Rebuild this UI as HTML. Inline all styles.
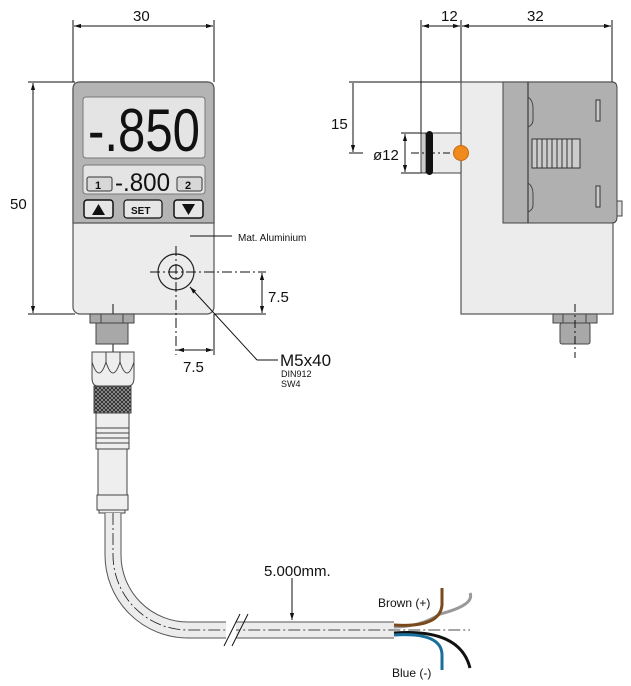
<!DOCTYPE html>
<html><head><meta charset="utf-8"><style>
html,body{margin:0;padding:0;background:#fff}
svg{display:block}
text{font-family:"Liberation Sans",sans-serif;fill:#111}
</style></head><body>
<svg width="631" height="686" viewBox="0 0 631 686" xmlns="http://www.w3.org/2000/svg">
<defs>
<marker id="a" viewBox="0 0 10 10" refX="10" refY="5" markerWidth="7" markerHeight="7" orient="auto-start-reverse"><path d="M0,2 L10,5 L0,8z" fill="#111"/></marker>
<pattern id="kn" width="4" height="4" patternUnits="userSpaceOnUse"><rect width="4" height="4" fill="#999"/><path d="M0,0 L4,4 M4,0 L0,4" stroke="#222" stroke-width="0.8"/></pattern>
</defs>
<g stroke="#111" stroke-width="1" fill="none">
<line x1="73" y1="20" x2="73" y2="82"/><line x1="214" y1="20" x2="214" y2="82"/>
<line x1="74" y1="26" x2="213" y2="26" marker-start="url(#a)" marker-end="url(#a)"/>
<line x1="28" y1="82" x2="75" y2="82"/><line x1="28" y1="314" x2="75" y2="314"/>
<line x1="33" y1="83" x2="33" y2="313" marker-start="url(#a)" marker-end="url(#a)"/>
</g>
<text x="133" y="21" font-size="15">30</text>
<text x="10" y="209" font-size="15">50</text>
<rect x="73" y="82" width="141" height="232" rx="7" fill="#ececec" stroke="#555" stroke-width="1.2"/>
<path d="M73,223 V89 Q73,82 80,82 H207 Q214,82 214,89 V223 Z" fill="#b4b4b4" stroke="#555" stroke-width="1.2"/>
<rect x="83" y="97" width="122" height="61" rx="3" fill="#e4e4e4" stroke="#777"/>
<text x="88" y="151" font-size="60" textLength="112" lengthAdjust="spacingAndGlyphs" fill="#111">-.850</text>
<rect x="83" y="165" width="122" height="29" rx="3" fill="#e4e4e4" stroke="#777"/>
<rect x="87" y="177" width="25" height="14" rx="2" fill="#d8d8d8" stroke="#333"/>
<text x="95" y="189" font-size="11" font-weight="bold">1</text>
<rect x="177" y="177" width="25" height="14" rx="2" fill="#d8d8d8" stroke="#333"/>
<text x="185" y="189" font-size="11" font-weight="bold">2</text>
<text x="115" y="191" font-size="25" textLength="55" lengthAdjust="spacingAndGlyphs">-.800</text>
<rect x="84" y="200" width="29" height="18" rx="3" fill="#e6e6e6" stroke="#111" stroke-width="1.5"/>
<path d="M92,215 L98.5,204 L105,215z" fill="#111"/>
<rect x="124" y="200" width="38" height="18" rx="3" fill="#e6e6e6" stroke="#111" stroke-width="1.2"/>
<text x="131" y="214" font-size="10" font-weight="bold">SET</text>
<rect x="174" y="200" width="29" height="18" rx="3" fill="#e6e6e6" stroke="#111" stroke-width="1.5"/>
<path d="M182,204 L195,204 L188.5,215z" fill="#111"/>
<circle cx="176" cy="272" r="18" fill="none" stroke="#222" stroke-width="1.2"/>
<circle cx="176" cy="272" r="7" fill="none" stroke="#222" stroke-width="1.2"/>
<g stroke="#111" stroke-width="1" fill="none">
<line x1="150" y1="272" x2="266" y2="272" stroke-dasharray="10,3,2,3"/>
<line x1="176" y1="246" x2="176" y2="355" stroke-dasharray="10,3,2,3"/>
<line x1="214" y1="314" x2="266" y2="314"/>
<line x1="214" y1="314" x2="214" y2="355"/>
<line x1="262" y1="273" x2="262" y2="313" marker-start="url(#a)" marker-end="url(#a)"/>
<line x1="177" y1="350" x2="213" y2="350" marker-start="url(#a)" marker-end="url(#a)"/>
<polyline points="257,360 190,287" marker-end="url(#a)"/>
<line x1="257" y1="360" x2="278" y2="360"/>
<line x1="190" y1="236" x2="232" y2="236"/>
<line x1="113" y1="304" x2="113" y2="530" stroke-dasharray="12,3,2,3"/>
</g>
<text x="268" y="302" font-size="15">7.5</text>
<text x="183" y="372" font-size="15">7.5</text>
<text x="280" y="366" font-size="17">M5x40</text>
<text x="281" y="377" font-size="9">DIN912</text>
<text x="281" y="387" font-size="9">SW4</text>
<text x="238" y="241" font-size="10">Mat. Aluminium</text>
<g stroke="#444" stroke-width="1">
<rect x="90" y="314" width="44" height="9" fill="#a8a8a8"/>
<line x1="101" y1="314" x2="101" y2="323"/><line x1="123" y1="314" x2="123" y2="323"/>
<rect x="96" y="323" width="32" height="21" fill="#a8a8a8"/>
<path d="M92,352 H134 V378 Q134,386 128,386 H98 Q92,386 92,378Z" fill="#eee"/>
<path d="M92,362 Q99,384 106,362 Q113,384 120,362 Q127,384 134,362" fill="none"/>
<line x1="106" y1="352" x2="106" y2="362"/><line x1="120" y1="352" x2="120" y2="362"/>
<rect x="94" y="386" width="37" height="27" fill="url(#kn)"/>
<rect x="96" y="413" width="33" height="15" fill="#eee"/>
<rect x="96" y="428" width="33" height="21" fill="#eee"/>
<line x1="96" y1="433" x2="129" y2="433"/><line x1="96" y1="438" x2="129" y2="438"/><line x1="96" y1="443" x2="129" y2="443"/>
<rect x="98" y="449" width="29" height="46" fill="#eee"/>
<rect x="97" y="495" width="31" height="15" fill="#eee"/>
<rect x="99" y="510" width="26" height="3" fill="#eee"/>
</g>
<path d="M113,513 V555 A75,75 0 0 0 188,630 H394" fill="none" stroke="#555" stroke-width="17"/>
<path d="M113,513 V555 A75,75 0 0 0 188,630 H394" fill="none" stroke="#ececec" stroke-width="15"/>
<path d="M113,513 V555 A75,75 0 0 0 188,630 H470" fill="none" stroke="#111" stroke-width="0.8" stroke-dasharray="12,3,2,3"/>
<rect x="226" y="618" width="10" height="26" fill="#fff"/>
<line x1="224" y1="646" x2="240" y2="614" stroke="#111"/>
<line x1="232" y1="646" x2="248" y2="614" stroke="#111"/>
<line x1="292" y1="578" x2="292" y2="620" stroke="#111" marker-end="url(#a)"/>
<text x="264" y="576" font-size="15">5.000mm.</text>
<g fill="none" stroke-width="3">
<path d="M394,627 Q420,627 440,614 Q475,605 470,593" stroke="#999"/>
<path d="M394,625 Q440,628 442,605 V588" stroke="#7a4a1c"/>
<path d="M394,633 Q460,628 470,668" stroke="#111"/>
<path d="M394,635 Q442,632 442,655 V670" stroke="#1a6f9a"/>
</g>
<text x="378" y="607" font-size="12">Brown (+)</text>
<text x="392" y="677" font-size="12">Blue (-)</text>
<g stroke="#111" stroke-width="1" fill="none">
<line x1="421" y1="20" x2="421" y2="135"/><line x1="461" y1="20" x2="461" y2="82"/><line x1="612" y1="20" x2="612" y2="82"/>
<line x1="422" y1="26" x2="460" y2="26" marker-start="url(#a)" marker-end="url(#a)"/>
<line x1="462" y1="26" x2="611" y2="26" marker-start="url(#a)" marker-end="url(#a)"/>
<line x1="349" y1="82" x2="461" y2="82"/>
<line x1="353" y1="83" x2="353" y2="152" marker-end="url(#a)"/>
<line x1="349" y1="153" x2="363" y2="153"/>
<line x1="401" y1="133" x2="425" y2="133"/><line x1="401" y1="173" x2="425" y2="173"/>
<line x1="405" y1="134" x2="405" y2="172" marker-start="url(#a)" marker-end="url(#a)"/>
</g>
<text x="441" y="21" font-size="15">12</text>
<text x="527" y="21" font-size="15">32</text>
<text x="331" y="129" font-size="15">15</text>
<text x="373" y="160" font-size="15">ø12</text>
<rect x="461" y="82" width="152" height="232" fill="#ececec" stroke="#555" stroke-width="1.2"/>
<path d="M503,82 H612 Q617,82 617,88 V217 Q617,223 612,223 H503Z" fill="#b0b0b0" stroke="#444"/>
<line x1="528" y1="82" x2="528" y2="223" stroke="#222"/>
<path d="M528,97 Q533,100 533,108 V120 Q533,125 528,127" fill="none" stroke="#444"/>
<path d="M528,183 Q533,186 533,194 V205 Q533,210 528,212" fill="none" stroke="#444"/>
<rect x="596" y="100" width="4" height="21" fill="#ccc" stroke="#333"/>
<rect x="596" y="186" width="4" height="21" fill="#ccc" stroke="#333"/>
<rect x="532" y="139" width="48" height="29" fill="#ccc" stroke="#333"/>
<g stroke="#333"><line x1="537" y1="139" x2="537" y2="168"/><line x1="542" y1="139" x2="542" y2="168"/><line x1="547" y1="139" x2="547" y2="168"/><line x1="552" y1="139" x2="552" y2="168"/><line x1="557" y1="139" x2="557" y2="168"/><line x1="562" y1="139" x2="562" y2="168"/><line x1="567" y1="139" x2="567" y2="168"/><line x1="572" y1="139" x2="572" y2="168"/></g>
<rect x="617" y="201" width="5" height="15" fill="#ddd" stroke="#444"/>
<rect x="421" y="133" width="40" height="40" fill="#ececec" stroke="#444"/>
<rect x="421" y="133" width="5" height="40" rx="2" fill="#ccc" stroke="#444"/>
<rect x="426" y="131" width="7" height="44" rx="3.5" fill="#111"/>
<line x1="411" y1="153" x2="450" y2="153" stroke="#111" stroke-dasharray="8,3,2,3"/>
<circle cx="461" cy="153" r="7.5" fill="#f08a1c" stroke="#c86a10"/>
<g stroke="#444"><rect x="553" y="314" width="44" height="9" fill="#a8a8a8"/><line x1="563" y1="314" x2="563" y2="323"/><line x1="586" y1="314" x2="586" y2="323"/><rect x="560" y="323" width="30" height="21" rx="2" fill="#a8a8a8"/></g>
<line x1="575" y1="304" x2="575" y2="358" stroke="#111" stroke-dasharray="8,3,2,3"/>
</svg>
</body></html>
